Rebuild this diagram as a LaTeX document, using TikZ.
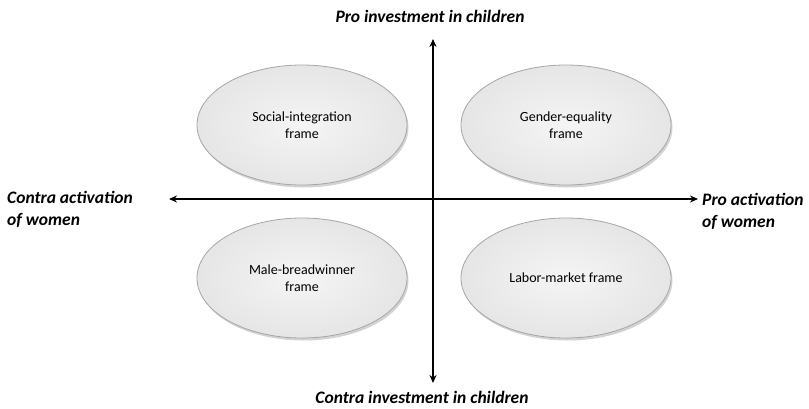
\documentclass[tikz,border=0pt]{standalone}
\usepackage{fontspec}
\setmainfont{Carlito}
\usetikzlibrary{shadows,arrows.meta,shapes.geometric}
\begin{document}
\begin{tikzpicture}[x=1pt,y=-1pt,
  frame/.style={ellipse,draw=black!35,line width=0.8pt,minimum width=210pt,minimum height=120pt,
    inner color=black!4,outer color=black!10,align=center,font=\fontsize{14}{17}\selectfont,
    drop shadow={shadow xshift=1.5pt,shadow yshift=-2.5pt,opacity=0.35}},
  axis/.style={line width=1.3pt,{Stealth[length=8pt,width=7pt]}-{Stealth[length=8pt,width=7pt]}},
  lab/.style={font=\fontsize{17.5}{22}\selectfont\bfseries\itshape,inner sep=0pt,align=left}]
\useasboundingbox (0,0) rectangle (809,408);
\coordinate (top) at (433,39);
\coordinate (bot) at (433,383);
\coordinate (lft) at (169,199);
\coordinate (rgt) at (698,199);
\draw[axis] (top) -- (bot);
\draw[axis] (lft) -- (rgt);
\node[frame] (si) at (302,125) {Social-integration\\frame};
\node[frame] (ge) at (566,125) {Gender-equality\\frame};
\node[frame] (mb) at (302,278) {Male-breadwinner\\frame};
\node[frame] (lm) at (566,278) {Labor-market frame};
\node[lab] (pi) at (430,16) {Pro investment in children};
\node[lab] (ci) at (422,397) {Contra investment in children};
\node[lab,anchor=west] (ca) at (7,209) {Contra activation\\of women};
\node[lab,anchor=west] (pa) at (702,211) {Pro activation\\of women};
\end{tikzpicture}
\end{document}
